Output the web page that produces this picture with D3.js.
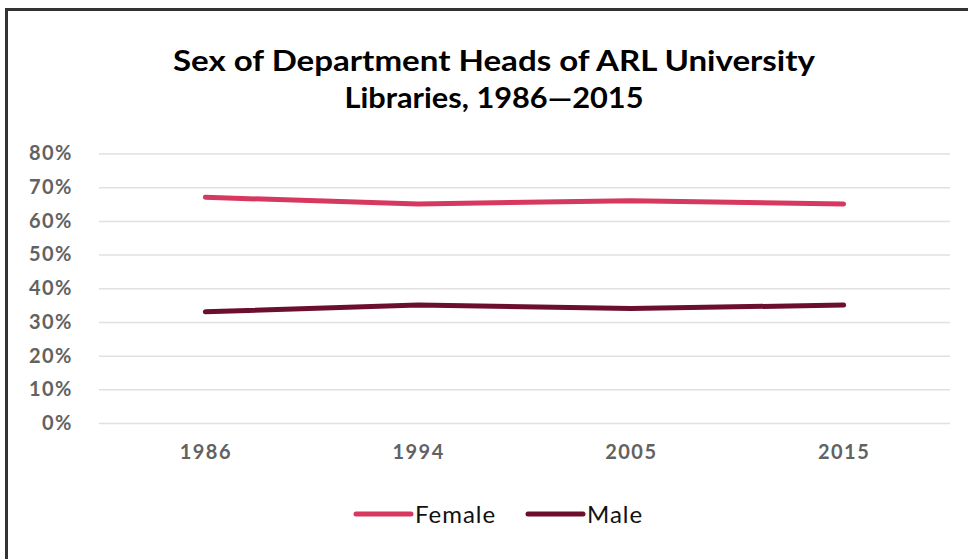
<!DOCTYPE html>
<html>
<head>
<meta charset="utf-8">
<script src="https://cdn.jsdelivr.net/npm/d3@7"></script>
<style>
  html, body { margin: 0; padding: 0; background: #fff; }
  svg { display: block; }
</style>
</head>
<body>
<svg id="chart" width="968" height="559"></svg>
<script>
const years = ["1986", "1994", "2005", "2015"];
const female = [67, 65, 66, 65];
const male = [33, 35, 34, 35];
const yTicks = [0, 10, 20, 30, 40, 50, 60, 70, 80];
const seriesNames = ["Female", "Male"];
const seriesColors = ["#d6385f", "#6b0f2c"];
const titleLines = ["Sex of Department Heads of ARL University", "Libraries, 1986\u20142015"];

const svg = d3.select("#chart");
const W = 968, H = 559;
const margin = { left: 99, right: 18, top: 153.5, bottom: 136 };
const FONT = "Lato, 'Open Sans', sans-serif";

// frame (top and left edges visible)
svg.append("line").attr("x1", 6.5).attr("x2", W).attr("y1", 9.5).attr("y2", 9.5)
  .attr("stroke", "#333").attr("stroke-width", 3);
svg.append("line").attr("x1", 6.5).attr("x2", 6.5).attr("y1", 8).attr("y2", H)
  .attr("stroke", "#333").attr("stroke-width", 3);

// title
const titleWidths = [642, 299];
const title = svg.append("text").attr("text-anchor", "middle")
  .attr("font-family", FONT).attr("font-weight", 700)
  .attr("font-size", 28).attr("fill", "#000");
titleLines.forEach((t, i) => {
  title.append("tspan").attr("x", 494).attr("y", 71 + i * 37)
    .attr("textLength", titleWidths[i]).attr("lengthAdjust", "spacingAndGlyphs").text(t);
});

const x = d3.scalePoint().domain(years).range([margin.left, W - margin.right]).padding(0.5);
const y = d3.scaleLinear().domain([0, 80]).range([H - margin.bottom, margin.top]);

// gridlines
const grid = svg.append("g").attr("transform", `translate(${margin.left},0)`)
  .call(d3.axisLeft(y).tickValues(yTicks).tickSize(-(W - margin.right - margin.left)).tickFormat(""));
grid.select(".domain").remove();
grid.selectAll(".tick line").attr("stroke", "#e0e0e0").attr("stroke-width", 1.5);

// y axis labels
const yAxis = svg.append("g").attr("transform", `translate(73,0)`)
  .call(d3.axisLeft(y).tickValues(yTicks).tickSize(0).tickPadding(0).tickFormat(d => d + "%"));
yAxis.select(".domain").remove();
yAxis.selectAll("text").attr("font-family", FONT)
  .attr("font-weight", 700).attr("font-size", 20).attr("letter-spacing", 1.5).attr("fill", "#626262");

// x axis labels
const xAxis = svg.append("g").attr("transform", `translate(0,${H - margin.bottom})`)
  .call(d3.axisBottom(x).tickSize(0).tickPadding(22));
xAxis.select(".domain").remove();
xAxis.selectAll("text").attr("font-family", FONT)
  .attr("font-weight", 700).attr("font-size", 20).attr("letter-spacing", 1.5).attr("fill", "#626262");

// lines
const line = d3.line().x((d, i) => x(years[i])).y(d => y(d));
[female, male].forEach((vals, k) => {
  svg.append("path").datum(vals).attr("d", line)
    .attr("fill", "none").attr("stroke", seriesColors[k]).attr("stroke-width", 5)
    .attr("stroke-linecap", "round").attr("stroke-linejoin", "round");
});

// legend
const legendX = [356, 528];
seriesNames.forEach((name, k) => {
  const g = svg.append("g").attr("transform", `translate(${legendX[k]},514)`);
  g.append("line").attr("x1", 0).attr("x2", 55).attr("y1", 0).attr("y2", 0)
    .attr("stroke", seriesColors[k]).attr("stroke-width", 5).attr("stroke-linecap", "round");
  g.append("text").attr("x", 59).attr("y", 9)
    .attr("font-family", FONT).attr("font-size", 24).attr("letter-spacing", 1)
    .attr("fill", "#111").text(name);
});
</script>
</body>
</html>
